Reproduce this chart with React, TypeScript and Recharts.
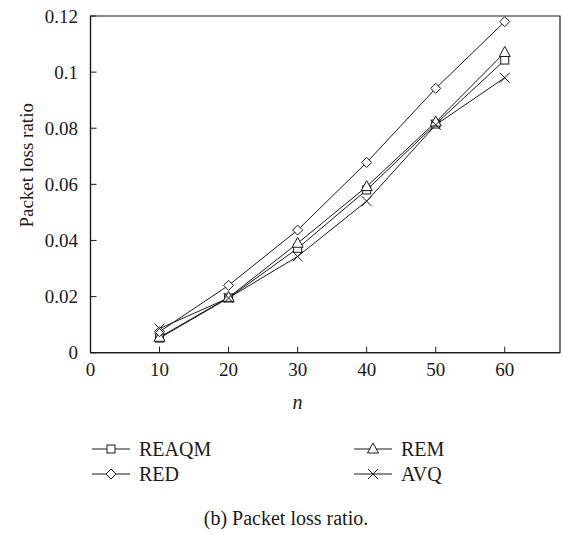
import React from "react";
import {
  LineChart, Line, XAxis, YAxis, ReferenceArea, Label,
} from "recharts";

const nValues = [10, 20, 30, 40, 50, 60];
const reaqm = [0.0052, 0.0195, 0.0372, 0.058, 0.0815, 0.1043];
const red = [0.0075, 0.024, 0.0437, 0.0678, 0.0942, 0.118];
const rem = [0.0055, 0.0197, 0.039, 0.0592, 0.0822, 0.107];
const avq = [0.0086, 0.0195, 0.0343, 0.054, 0.0812, 0.098];

const xTicks = [0, 10, 20, 30, 40, 50, 60];
const yTicks = [0, 0.02, 0.04, 0.06, 0.08, 0.1, 0.12];

const data = nValues.map((n, i) => ({
  n,
  REAQM: reaqm[i],
  RED: red[i],
  REM: rem[i],
  AVQ: avq[i],
}));

const FONT = "'Liberation Serif', 'DejaVu Serif', serif";
const INK = "#1a1a1a";

type Marker = "square" | "diamond" | "triangle" | "cross";

function MarkerShape({ kind, cx, cy }: { kind: Marker; cx: number; cy: number }) {
  const p = { fill: "#fff", stroke: INK, strokeWidth: 1 };
  switch (kind) {
    case "square":
      return <rect x={cx - 4} y={cy - 4} width={8} height={8} {...p} />;
    case "diamond":
      return <polygon points={`${cx},${cy - 5} ${cx + 5},${cy} ${cx},${cy + 5} ${cx - 5},${cy}`} {...p} />;
    case "triangle":
      return <polygon points={`${cx},${cy - 6} ${cx + 5.5},${cy + 4} ${cx - 5.5},${cy + 4}`} {...p} />;
    default:
      return (
        <path
          d={`M${cx - 5},${cy - 5}L${cx + 5},${cy + 5}M${cx - 5},${cy + 5}L${cx + 5},${cy - 5}`}
          stroke={INK}
          strokeWidth={1}
          fill="none"
        />
      );
  }
}

const makeDot = (kind: Marker) => (props: any) => {
  const { cx, cy, index } = props;
  if (cx == null || cy == null) return <g key={index} />;
  return (
    <g key={`${kind}-${index}`}>
      <MarkerShape kind={kind} cx={cx} cy={cy} />
    </g>
  );
};

const series: { key: string; marker: Marker }[] = [
  { key: "REAQM", marker: "square" },
  { key: "REM", marker: "triangle" },
  { key: "RED", marker: "diamond" },
  { key: "AVQ", marker: "cross" },
];

function LegendIcon({ kind }: { kind: Marker }) {
  return (
    <svg width={38} height={20} style={{ display: "block" }}>
      <line x1={0} y1={10} x2={38} y2={10} stroke={INK} strokeWidth={1} />
      <MarkerShape kind={kind} cx={19} cy={10} />
    </svg>
  );
}

// two-column key under the plot
function ChartLegend() {
  return (
    <div
      style={{
        position: "absolute",
        left: 92,
        top: 439,
        display: "grid",
        gridTemplateColumns: "262px 200px",
        rowGap: 5,
        fontFamily: FONT,
        fontSize: 20,
        color: INK,
      }}
    >
      {series.map((s) => (
        <div key={s.key} style={{ display: "flex", alignItems: "center", gap: 9, height: 20 }}>
          <LegendIcon kind={s.marker} />
          <span>{s.key}</span>
        </div>
      ))}
    </div>
  );
}

const tickStyle = { fontFamily: FONT, fontSize: 19, fill: INK };

export default function App() {
  return (
    <div style={{ position: "absolute", left: 0, top: 0, width: 563, height: 534, background: "#fff" }}>
      <LineChart
        width={563}
        height={534}
        data={data}
        margin={{ top: 16, right: 3, left: 0, bottom: 121.3 }}
      >
        <XAxis
          dataKey="n"
          type="number"
          domain={[0, 68]}
          ticks={xTicks}
          tickSize={-6}
          tickMargin={16}
          tick={tickStyle}
          stroke={INK}
          axisLine={{ stroke: INK, strokeWidth: 1.2 }}
          tickLine={{ stroke: INK }}
          height={60}
          interval={0}
        >
          <Label
            content={({ viewBox }: any) => (
              <text
                x={viewBox.x + 207}
                y={viewBox.y + 56}
                textAnchor="middle"
                fontFamily={FONT}
                fontStyle="italic"
                fontSize={20}
                fill={INK}
              >
                n
              </text>
            )}
          />
        </XAxis>
        <YAxis
          type="number"
          domain={[0, 0.12]}
          ticks={yTicks}
          width={90.5}
          tickSize={-6}
          tickMargin={18.5}
          tick={tickStyle}
          stroke={INK}
          axisLine={{ stroke: INK, strokeWidth: 1.2 }}
          tickLine={{ stroke: INK }}
          interval={0}
          tickFormatter={(v: number) => String(Number(v.toFixed(2)))}
        >
          <Label
            content={({ viewBox }: any) => (
              <text
                x={33}
                y={viewBox.y + viewBox.height / 2 - 19}
                transform={`rotate(-90 33 ${viewBox.y + viewBox.height / 2 - 19})`}
                textAnchor="middle"
                fontFamily={FONT}
                fontSize={19}
                fill={INK}
              >
                Packet loss ratio
              </text>
            )}
          />
        </YAxis>
        <ReferenceArea x1={0} x2={68} y1={0} y2={0.12} fill="none" stroke={INK} strokeWidth={1.2} ifOverflow="visible" />
        {series.map((s) => (
          <Line
            key={s.key}
            dataKey={s.key}
            stroke={INK}
            strokeWidth={1}
            dot={makeDot(s.marker)}
            activeDot={false}
            isAnimationActive={false}
            legendType="none"
          />
        ))}
      </LineChart>
      <ChartLegend />
      <div
        style={{
          position: "absolute",
          left: 0,
          top: 507,
          width: 572,
          textAlign: "center",
          fontFamily: FONT,
          fontSize: 20,
          color: INK,
        }}
      >
        (b) Packet loss ratio.
      </div>
    </div>
  );
}
